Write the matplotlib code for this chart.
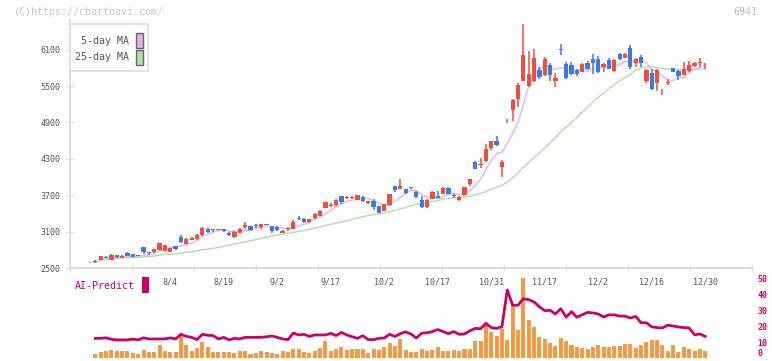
import numpy as np
import pandas as pd
import matplotlib
matplotlib.use("Agg")
import matplotlib.pyplot as plt
from matplotlib.patches import Rectangle

# daily candles (index 0 = first session shown)
opens = [2592, 2610, 2632, 2680, 2632, 2714, 2670, 2752, 2726, 2705,
         2841, 2755, 2759, 2792, 2785, 2772, 2861, 3016, 2900, 2970,
         2974, 3044, 3148, 3140, 3134, 3143, 3082, 3005, 3082, 3170,
         3192, 3200, 3181, 3222, 3187, 3181, 3077, 3138, 3143, 3325,
         3313, 3252, 3324, 3357, 3494, 3522, 3538, 3686, 3660, 3655,
         3621, 3670, 3577, 3604, 3522, 3445, 3538, 3851, 3807, 3801,
         3822, 3753, 3621, 3505, 3642, 3686, 3725, 3818, 3690, 3615,
         3698, 3890, 4247, 4192, 4269, 4478, 4588, 4170, 4950, 5112,
         5292, 5590, 5500, 5590, 5763, 5681, 5846, 5590, 6115, 5857,
         5846, 5763, 5736, 5885, 5945, 5945, 5813, 5928, 5747, 6027,
         5966, 6125, 5874, 5983, 5587, 5709, 5550, 5445, 5543, 5791,
         5747, 5681, 5752, 5829, 5880, 5825]
highs = [2600, 2640, 2705, 2700, 2730, 2720, 2715, 2770, 2735, 2715,
         2845, 2760, 2815, 2920, 2880, 2835, 2870, 3050, 2990, 3010,
         3060, 3175, 3160, 3150, 3150, 3150, 3090, 3105, 3155, 3260,
         3200, 3230, 3230, 3232, 3195, 3192, 3125, 3170, 3290, 3350,
         3325, 3310, 3400, 3460, 3595, 3570, 3635, 3690, 3690, 3680,
         3710, 3680, 3612, 3630, 3530, 3560, 3725, 3860, 3967, 3810,
         3835, 3770, 3680, 3630, 3765, 3765, 3830, 3830, 3720, 3685,
         3840, 3975, 4270, 4320, 4540, 4600, 4680, 4280, 4965, 5290,
         5550, 6518, 6083, 6110, 5810, 5980, 5880, 5710, 6200, 5900,
         5900, 5780, 5885, 5920, 6030, 5990, 5880, 5960, 5940, 6040,
         6050, 6180, 5960, 6020, 5780, 5790, 5780, 5460, 5620, 5800,
         5760, 5900, 5920, 5895, 5960, 5880]
lows = [2588, 2585, 2625, 2660, 2625, 2665, 2660, 2690, 2680, 2690,
        2730, 2720, 2750, 2785, 2775, 2765, 2805, 2910, 2890, 2960,
        2965, 3035, 3070, 3090, 3120, 3100, 3035, 2995, 3075, 3150,
        3115, 3160, 3150, 3205, 3070, 3110, 3070, 3110, 3140, 3290,
        3250, 3245, 3315, 3350, 3485, 3500, 3530, 3560, 3645, 3640,
        3615, 3590, 3560, 3460, 3400, 3440, 3530, 3760, 3795, 3725,
        3795, 3650, 3495, 3495, 3630, 3650, 3715, 3715, 3650, 3605,
        3690, 3850, 4130, 4155, 4250, 4440, 4520, 4000, 4895, 4920,
        5150, 5590, 5480, 5560, 5620, 5670, 5580, 5480, 6020, 5625,
        5680, 5660, 5730, 5770, 5700, 5720, 5740, 5780, 5740, 5930,
        5960, 5780, 5820, 5820, 5550, 5440, 5420, 5360, 5520, 5725,
        5600, 5675, 5740, 5810, 5820, 5790]
closes = [2597, 2600, 2698, 2672, 2714, 2676, 2703, 2698, 2686, 2698,
          2759, 2748, 2808, 2912, 2874, 2825, 2813, 2923, 2982, 2999,
          3049, 3159, 3098, 3134, 3140, 3115, 3044, 3098, 3143, 3210,
          3126, 3192, 3220, 3216, 3115, 3126, 3115, 3145, 3263, 3315,
          3263, 3302, 3390, 3439, 3583, 3540, 3621, 3593, 3667, 3662,
          3703, 3604, 3604, 3505, 3412, 3555, 3720, 3791, 3857, 3736,
          3814, 3670, 3505, 3621, 3753, 3659, 3818, 3725, 3682, 3670,
          3835, 3967, 4137, 4219, 4461, 4588, 4532, 4247, 4960, 5265,
          5512, 6018, 5697, 5963, 5653, 5945, 5681, 5637, 6100, 5637,
          5697, 5692, 5863, 5780, 5885, 5725, 5857, 5790, 5928, 5945,
          6027, 5818, 5945, 5874, 5763, 5450, 5758, 5455, 5570, 5736,
          5670, 5774, 5846, 5879, 5888, 5833]

# lower panel, from session 1 onwards (0-50 scale)
volume = [2.5, 3.75, 4.6, 5.0, 4.6, 4.2, 4.4, 3.1, 2.7, 5.2,
          3.75, 3.75, 8.1, 4.2, 3.75, 3.75, 14.4, 8.1, 4.6, 6.25,
          10, 6.9, 3.75, 3.75, 3.75, 3.75, 3.1, 4.2, 4.4, 2.5,
          3.1, 4.4, 3.5, 3.1, 2.5, 4.4, 3.5, 5.6, 5.4, 3.75,
          3.1, 4.4, 6.25, 10.6, 4.4, 5.6, 6.9, 5.0, 5.4, 5.4,
          5.8, 3.1, 5.6, 5.0, 6.9, 9.4, 7.5, 11.9, 5.0, 3.75,
          3.75, 5.6, 4.4, 5.0, 6.9, 4.4, 4.4, 5.0, 4.4, 5.6,
          5.6, 10.6, 10.6, 21.25, 16.25, 13.75, 18.1, 11.25, 33.1, 17.5,
          50, 23.75, 19.4, 13.1, 11.9, 9.4, 7.5, 12.5, 10.6, 8.1,
          6.9, 6.25, 5.6, 6.9, 8.1, 6.9, 6.9, 7.5, 7.5, 8.75,
          8.75, 6.25, 8.1, 10, 11.25, 11.25, 8.1, 4.4, 8.1, 3.75,
          6.9, 5.6, 4.4, 5.6, 4.4]
ai_predict = [12.3, 12.3, 12.6, 11.7, 11.3, 11.3, 11.3, 11.8, 11.3, 12.6,
              11.9, 11.9, 11.9, 11.9, 12.6, 11.9, 14.8, 13.5, 12.9, 11.5,
              14.8, 14.2, 14.0, 11.9, 12.9, 11.3, 12.3, 11.9, 12.9, 12.9,
              12.9, 12.9, 13.3, 13.75, 12.9, 11.9, 11.5, 15.6, 14.4, 14.8,
              13.5, 14.4, 14.4, 14.4, 15.4, 14.0, 16.0, 14.4, 13.3, 12.3,
              13.9, 11.5, 11.5, 12.3, 12.5, 14.8, 13.5, 15.2, 16.3, 15.0,
              12.5, 15.5, 15.8, 16.5, 17.8, 16.5, 15.2, 16.5, 14.8, 15.0,
              17.0, 18.5, 18.3, 21.7, 19.0, 18.5, 19.6, 42.5, 33.0, 33.0,
              37.0, 36.5, 35.0, 32.0, 29.6, 29.8, 27.5, 30.8, 25.5, 29.0,
              25.5, 27.0, 28.5, 28.2, 27.5, 25.6, 27.0, 27.0, 26.2, 26.2,
              25.0, 26.0, 22.0, 22.0, 19.5, 19.0, 18.8, 20.5, 20.0, 19.4,
              19.0, 18.75, 14.5, 15.0, 13.5]

date_labels = ['8/4', '8/19', '9/2', '9/17', '10/2', '10/17', '10/31',
               '11/17', '12/2', '12/16', '12/30']
label_days = [15, 25, 35, 45, 55, 65, 75, 85, 95, 105, 115]
price_ticks = [2500, 3100, 3700, 4300, 4900, 5500, 6100]
ai_ticks = [0, 10, 20, 30, 40, 50]

RED = '#f04e3c'
BLUE = '#3d78e8'
PINK = '#e8b0e8'
GREEN = '#b4dca4'
CRIMSON = '#cc0066'
ORANGE = '#f39a45'
GRAY = '#dddddd'
MONO = 'DejaVu Sans Mono'

W, H = 772, 361
fig = plt.figure(figsize=(W / 100, H / 100), dpi=100)


def box(x0, y0, x1, y1):
    # pixel box (top-left origin) -> figure fraction rect
    return [x0 / W, 1 - y1 / H, (x1 - x0) / W, (y1 - y0) / H]


o = np.array(opens, float)
hi = np.array(highs, float)
lo = np.array(lows, float)
c = np.array(closes, float)
idx = np.arange(len(c))
xlim = (-3.74, 123.74)

ax = fig.add_axes(box(70, 20, 752, 268))
ma5 = pd.Series(c).rolling(5, min_periods=1).mean()
ma25 = pd.Series(c).rolling(25, min_periods=1).mean()
ax.plot(idx[1:], ma25[1:], color=GREEN, lw=1.0, zorder=1)
ax.plot(idx[1:], ma5[1:], color=PINK, lw=1.0, zorder=1)

cols = np.where(c >= o, RED, BLUE)
ax.vlines(idx, lo, hi, colors=cols, lw=1.1, zorder=2)
body = np.maximum(np.abs(c - o), 14)
ax.bar(idx, body, bottom=np.minimum(o, c), width=0.8, color=cols,
       linewidth=0, zorder=3)

ax.set_xlim(*xlim)
ax.set_ylim(2500, 6590)
ax.set_yticks(price_ticks)
ax.set_yticklabels([str(t) for t in price_ticks], family=MONO, fontsize=6,
                   color='#555555')
ax.tick_params(axis='y', direction='inout', length=6, width=1, color=GRAY,
               pad=4)
ax.set_xticks(label_days)
ax.set_xticklabels(date_labels, family=MONO, fontsize=6, color='#555555')
ax.set_xticks(np.linspace(xlim[0], xlim[1], 12), minor=True)
ax.tick_params(axis='x', which='major', length=0, pad=7)
ax.tick_params(axis='x', which='minor', direction='inout', length=4,
               width=1, color=GRAY)
for s in ['top', 'right']:
    ax.spines[s].set_visible(False)
for s in ['left', 'bottom']:
    ax.spines[s].set_color(GRAY)
    ax.spines[s].set_linewidth(1.5)

# lower panel: volume + AI-Predict
ax2 = fig.add_axes(box(70, 278, 752, 358))
ax2.patch.set_visible(False)
ax2.bar(idx[1:], volume, width=0.75, color=ORANGE, linewidth=0, zorder=1)
ax2.plot(idx[1:], ai_predict, color=CRIMSON, lw=2.0, zorder=2)
ax2.set_xlim(*xlim)
ax2.set_ylim(0, 50)
ax2.set_xticks([])
ax2.yaxis.tick_right()
ax2.set_yticks(ai_ticks)
ax2.set_yticklabels([str(t) for t in ai_ticks], family=MONO, fontsize=6,
                    color=CRIMSON, fontweight='bold')
ax2.tick_params(axis='y', length=0, pad=4)
ax2.get_yticklabels()[0].set_va('bottom')
for s in ax2.spines.values():
    s.set_visible(False)

# legend box
fig.add_artist(Rectangle(box(70, 24, 148, 71)[:2], 78 / W, 47 / H,
                         transform=fig.transFigure, fc='white', ec=GRAY,
                         lw=1.2, zorder=5))
for label, col, yc in [('5-day MA', PINK, 40.5), ('25-day MA', GREEN, 57.5)]:
    fig.text(129 / W, 1 - yc / H, label, ha='right', va='center',
             family=MONO, fontsize=7.2, color='#555555', zorder=6)
    fig.add_artist(Rectangle(box(136, yc - 7.5, 142.5, yc + 7.5)[:2],
                             6.5 / W, 15 / H, transform=fig.transFigure,
                             fc=col, ec='#666666', lw=1.0, zorder=6))

fig.text(14 / W, 1 - 12 / H, '(C)https://chartnavi.com/', ha='left',
         va='center', family=MONO, fontsize=7.2, color='#c8c8c8')
fig.text(757 / W, 1 - 12 / H, '6941', ha='right', va='center',
         family=MONO, fontsize=7.2, color='#bbbbbb')
fig.text(75 / W, 1 - 286 / H, 'AI-Predict', ha='left', va='center',
         family=MONO, fontsize=7.2, color=CRIMSON)
fig.add_artist(Rectangle(box(142, 277, 148.5, 293)[:2], 6.5 / W, 16 / H,
                         transform=fig.transFigure, fc=CRIMSON, lw=0))

fig.savefig('out.png', dpi=100)
